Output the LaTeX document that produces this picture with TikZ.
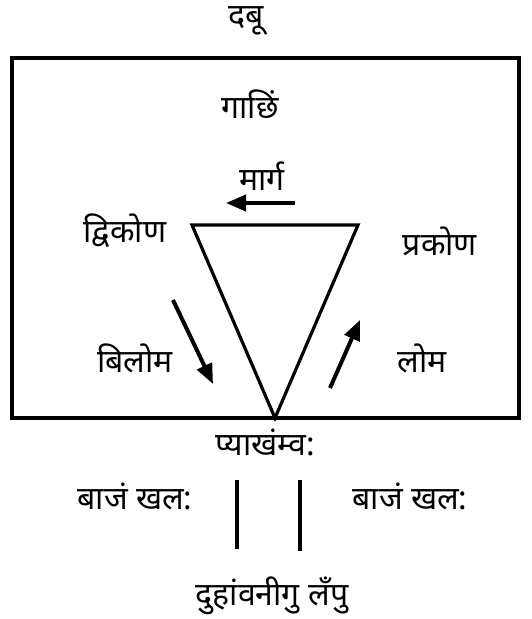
\documentclass[tikz,border=0pt]{standalone}
\usepackage{fontspec}
\newfontfamily\deva[Script=Devanagari]{Noto Sans}
\usetikzlibrary{arrows.meta}
\begin{document}
\begin{tikzpicture}[x=1pt,y=-1pt,
  lbl/.style={font=\deva\fontsize{32}{37}\selectfont, inner sep=0pt, yshift=-1pt},
  frame/.style={line width=3.2pt},
  arr/.style={line width=4pt,-{Triangle[length=20pt,width=16pt]}},
  bar/.style={line width=3.6pt}]
\useasboundingbox (0,0) rectangle (531,619);
\node[lbl] (dabu) at (246,20) {दबू};
\draw[frame] (12,58) rectangle (519,418);
\node[lbl] (gachhi) at (250,103) {गाछिं};
\node[lbl] (marga) at (262,175) {मार्ग};
\coordinate (ma1) at (295,203);
\coordinate (ma2) at (226,203);
\draw[arr] (ma1) -- (ma2);
\coordinate (tl) at (192,225);
\coordinate (tr) at (358,225);
\coordinate (tb) at (275,418);
\draw[frame, line join=miter] (tl) -- (tr) -- (tb) -- cycle;
\node[lbl] (dvikona) at (125,230) {द्विकोण};
\node[lbl] (prakona) at (440,240) {प्रकोण};
\node[lbl] (biloma) at (135,357) {बिलोम};
\node[lbl] (loma) at (422,357) {लोम};
\coordinate (b1) at (173,300);
\coordinate (b2) at (213,384);
\draw[arr] (b1) -- (b2);
\coordinate (l1) at (330,388);
\coordinate (l2) at (360,320);
\draw[arr] (l1) -- (l2);
\node[lbl] (pyakha) at (265,441) {प्याखंम्व:};
\node[lbl] (bajl) at (135,495) {बाजं खल:};
\node[lbl] (bajr) at (410,495) {बाजं खल:};
\coordinate (v1a) at (237,480);
\coordinate (v1b) at (237,549);
\coordinate (v2a) at (300,480);
\coordinate (v2b) at (300,551);
\draw[bar] (v1a) -- (v1b);
\draw[bar] (v2a) -- (v2b);
\node[lbl] (duha) at (272,595) {दुहांवनीगु लँपु};
\end{tikzpicture}
\end{document}
